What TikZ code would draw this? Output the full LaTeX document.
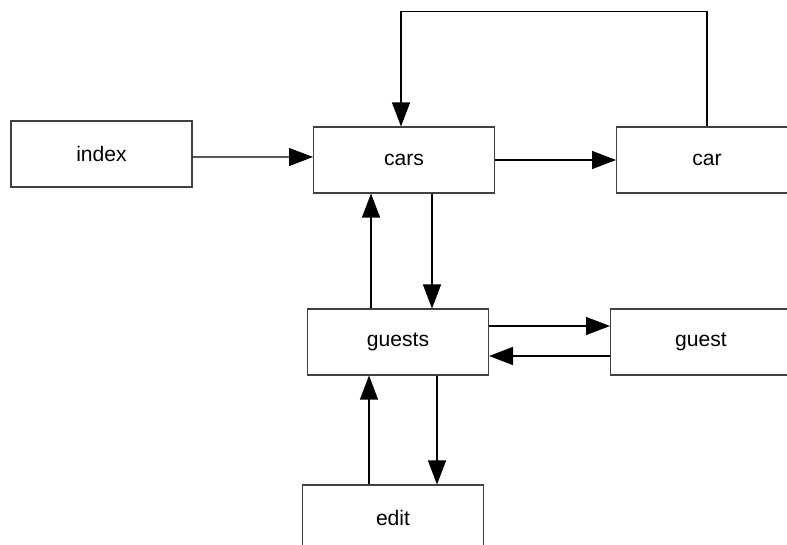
\documentclass[tikz,border=0pt]{standalone}
\usepackage{fontspec}
\setmainfont{Liberation Sans}
\usetikzlibrary{arrows.meta}
\begin{document}
\begin{tikzpicture}[x=0.02cm, y=-0.02cm, line width=0.6pt,
    page/.style={draw=black!75, fill=white, minimum width=3.62cm, minimum height=1.32cm, inner sep=0pt, font=\fontsize{12}{14}\selectfont},
    arr/.style={-{Triangle[length=4.8mm, width=3.6mm]}}]
  \useasboundingbox (0,0) rectangle (787,544);
  \clip (0,0) rectangle (787,544);
  \node[page] (index) at (101.5,154) {index};
  \node[page] (cars) at (404,160) {cars};
  \node[page] (car) at (707,160) {car};
  \node[page] (guests) at (398,342) {guests};
  \node[page] (guest) at (701,342) {guest};
  \node[page] (edit) at (393,518) {edit};
  \draw[arr] ([yshift=-0.06cm]index.east) -- ([yshift=0.06cm]cars.west);
  \draw[arr] (cars.east) -- (car.west);
  \draw[arr] (car.north) -- ++(0,-115) -| ([xshift=-0.06cm]cars.north);
  \draw[arr] ([xshift=0.56cm]cars.south) -- ([xshift=0.56cm]cars.south |- guests.north);
  \draw[arr] ([xshift=-0.54cm]guests.north) -- ([xshift=-0.54cm]guests.north |- cars.south);
  \draw[arr] ([yshift=0.32cm]guests.east) -- ([yshift=0.32cm]guests.east -| guest.west);
  \draw[arr] ([yshift=-0.28cm]guest.west) -- ([yshift=-0.28cm]guest.west -| guests.east);
  \draw[arr] ([xshift=0.78cm]guests.south) -- ([xshift=0.78cm]guests.south |- edit.north);
  \draw[arr] ([xshift=-0.48cm]edit.north) -- ([xshift=-0.48cm]edit.north |- guests.south);
\end{tikzpicture}
\end{document}
